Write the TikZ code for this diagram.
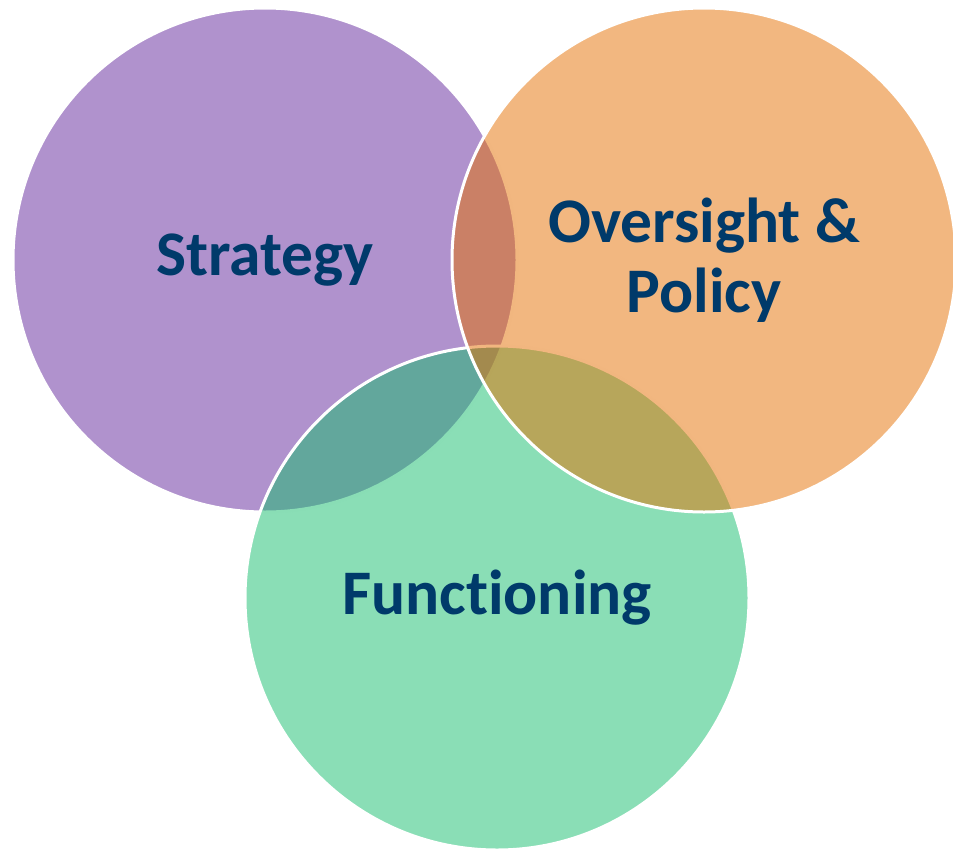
\documentclass[tikz,border=0pt]{standalone}
\usepackage{fontspec}
\setmainfont{Carlito}[Ligatures=NoCommon]
\usepackage{tikz}
\definecolor{cstrat}{RGB}{97,37,155}
\definecolor{cfunc}{RGB}{21,189,109}
\definecolor{cover}{RGB}{229,111,1}
\definecolor{cnavy}{RGB}{0,58,106}

\begin{document}
\begin{tikzpicture}[x=1pt, y=-1pt]
  \tikzstyle{zone}=[circle, minimum size=504pt, inner sep=0pt, draw=white, line width=3pt, fill opacity=0.5, text opacity=1, text=cnavy, align=center, font=\bfseries\fontsize{63.5}{70}\selectfont]

	\useasboundingbox (0,0) rectangle (953,851);

	\node[zone, fill=cstrat] (S) at (265,260) {Strategy};
	\node[zone, fill=cfunc]  (F) at (497,598) {Functioning};
	\node[zone, fill=cover]  (O) at (704,260) {Oversight \&\\Policy};

\end{tikzpicture}
\end{document}
